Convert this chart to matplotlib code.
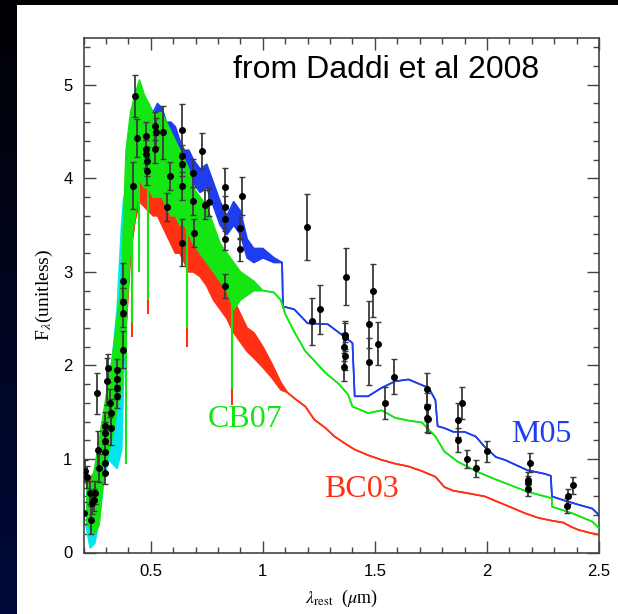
import numpy as np
import matplotlib
matplotlib.use('Agg')
import matplotlib.pyplot as plt
from matplotlib.patches import Rectangle
from matplotlib.colors import LinearSegmentedColormap
from matplotlib.ticker import MultipleLocator

plt.rcParams['mathtext.fontset'] = 'stix'

# ---- values ----
# model spectra: wavelength (micron), lower / upper edge of the noisy band
cyan_wl = [0.21, 0.23, 0.25, 0.27, 0.29, 0.31, 0.33, 0.35, 0.37, 0.38, 0.39]
cyan_lo = [0.30, 0.05, 0.10, 0.35, 0.75, 1.00, 0.95, 0.90, 1.10, 2.00, 2.60]
cyan_hi = [0.75, 0.60, 0.75, 1.05, 1.40, 1.75, 2.10, 2.60, 3.50, 3.80, 3.20]

cb07_wl = [0.21, 0.23, 0.25, 0.27, 0.29, 0.31, 0.33, 0.35, 0.37, 0.39,
           0.41, 0.43, 0.45, 0.47, 0.49, 0.51, 0.53, 0.55, 0.57, 0.59,
           0.61, 0.63, 0.65, 0.67, 0.69, 0.72, 0.75, 0.78, 0.81, 0.84,
           0.87, 0.90, 0.93, 0.96, 1.00, 1.05, 1.08, 1.10, 1.14, 1.19,
           1.23, 1.28, 1.34, 1.38, 1.40, 1.47, 1.53, 1.59, 1.65, 1.71,
           1.77, 1.81, 1.87, 1.96, 2.04, 2.18, 2.29, 2.29, 2.38, 2.47, 2.50]
cb07_lo = [0.35, 0.25, 0.20, 0.30, 0.85, 1.05, 1.25, 1.55, 1.75, 2.50,
           3.30, 3.60, 4.00, 3.90, 3.90, 3.80, 3.80, 3.80, 3.70, 3.60,
           3.60, 3.50, 3.50, 3.40, 3.30, 3.20, 3.10, 3.00, 2.90, 2.80,
           2.60, 2.70, 2.75, 2.80, 2.80, 2.78, 2.70, 2.55, 2.36, 2.15,
           2.05, 1.92, 1.80, 1.69, 1.56, 1.49, 1.52, 1.44, 1.41, 1.39,
           1.24, 1.08, 0.97, 0.86, 0.78, 0.65, 0.58, 0.49, 0.42, 0.33, 0.26]
cb07_hi = [0.80, 0.70, 0.90, 1.20, 1.50, 1.80, 2.10, 2.50, 2.90, 4.30,
           4.70, 4.90, 5.05, 4.90, 4.80, 4.70, 4.70, 4.70, 4.60, 4.50,
           4.40, 4.30, 4.20, 4.10, 3.90, 3.80, 3.70, 3.50, 3.30, 3.20,
           3.10, 3.00, 2.95, 2.90, 2.80, 2.78, 2.70, 2.55, 2.36, 2.15,
           2.05, 1.92, 1.80, 1.69, 1.56, 1.49, 1.52, 1.44, 1.41, 1.39,
           1.24, 1.08, 0.97, 0.86, 0.78, 0.65, 0.58, 0.49, 0.42, 0.33, 0.26]

bc03_wl = [0.21, 0.25, 0.29, 0.33, 0.37, 0.39, 0.41, 0.43, 0.45, 0.47,
           0.49, 0.51, 0.53, 0.55, 0.57, 0.59, 0.61, 0.63, 0.65, 0.67,
           0.69, 0.72, 0.75, 0.78, 0.81, 0.84, 0.87, 0.90, 0.93, 0.96,
           1.00, 1.04, 1.08, 1.11, 1.14, 1.19, 1.23, 1.28, 1.32, 1.37,
           1.41, 1.47, 1.53, 1.59, 1.65, 1.71, 1.77, 1.81, 1.85, 1.90,
           1.99, 2.05, 2.11, 2.17, 2.23, 2.29, 2.34, 2.38, 2.41, 2.46, 2.50]
bc03_lo = [0.40, 0.35, 0.90, 1.30, 1.80, 2.40, 3.20, 3.55, 3.75, 3.70,
           3.65, 3.60, 3.60, 3.50, 3.40, 3.30, 3.20, 3.20, 3.10, 3.00,
           3.00, 2.95, 2.85, 2.70, 2.60, 2.50, 2.35, 2.25, 2.15, 2.08,
           1.98, 1.87, 1.74, 1.71, 1.65, 1.56, 1.42, 1.33, 1.24, 1.16,
           1.10, 1.04, 0.99, 0.95, 0.92, 0.87, 0.81, 0.70, 0.66, 0.64,
           0.60, 0.54, 0.48, 0.42, 0.37, 0.34, 0.32, 0.27, 0.24, 0.21, 0.19]
bc03_hi = [0.75, 0.85, 1.40, 2.00, 2.80, 4.00, 4.40, 4.60, 4.70, 4.50,
           4.40, 4.30, 4.30, 4.20, 4.10, 4.00, 3.90, 3.80, 3.70, 3.60,
           3.50, 3.35, 3.20, 3.05, 2.95, 2.85, 2.70, 2.55, 2.40, 2.35,
           2.20, 2.02, 1.82, 1.71, 1.65, 1.56, 1.42, 1.33, 1.24, 1.16,
           1.10, 1.04, 0.99, 0.95, 0.92, 0.87, 0.81, 0.70, 0.66, 0.64,
           0.60, 0.54, 0.48, 0.42, 0.37, 0.34, 0.32, 0.27, 0.24, 0.21, 0.19]

m05_wl = [0.39, 0.41, 0.43, 0.45, 0.47, 0.49, 0.51, 0.53, 0.55, 0.57,
          0.59, 0.61, 0.63, 0.65, 0.67, 0.69, 0.72, 0.75, 0.78, 0.81,
          0.84, 0.87, 0.90, 0.93, 0.96, 1.00, 1.05, 1.086, 1.09, 1.14,
          1.20, 1.29, 1.34, 1.40, 1.41, 1.47, 1.53, 1.59, 1.65, 1.71,
          1.74, 1.77, 1.78, 1.81, 1.85, 1.90, 1.95, 1.99, 2.04, 2.08,
          2.18, 2.26, 2.285, 2.29, 2.34, 2.41, 2.47, 2.50]
m05_lo = [2.60, 3.40, 3.80, 4.40, 4.45, 4.50, 4.40, 4.50, 4.40, 4.30,
          4.30, 4.20, 4.10, 4.00, 4.00, 3.95, 3.85, 3.90, 3.70, 3.50,
          3.40, 3.50, 3.40, 3.15, 3.10, 3.15, 3.10, 3.10, 2.63, 2.60,
          2.45, 2.44, 2.35, 2.24, 1.67, 1.67, 1.76, 1.83, 1.85, 1.79,
          1.76, 1.63, 1.35, 1.33, 1.29, 1.29, 1.24, 1.13, 1.02, 0.99,
          0.88, 0.84, 0.82, 0.60, 0.56, 0.51, 0.47, 0.40]
m05_hi = [4.20, 4.60, 4.90, 5.00, 4.85, 4.80, 4.70, 4.80, 4.75, 4.60,
          4.60, 4.55, 4.40, 4.30, 4.30, 4.20, 4.10, 4.15, 3.95, 3.75,
          3.60, 3.75, 3.65, 3.35, 3.25, 3.25, 3.15, 3.10, 2.63, 2.60,
          2.45, 2.44, 2.35, 2.24, 1.67, 1.67, 1.76, 1.83, 1.85, 1.79,
          1.76, 1.63, 1.35, 1.33, 1.29, 1.29, 1.24, 1.13, 1.02, 0.99,
          0.88, 0.84, 0.82, 0.60, 0.56, 0.51, 0.47, 0.40]

# deep absorption spikes
cb07_spike_wl = [0.39, 0.417, 0.448, 0.488, 0.66, 0.862]
cb07_spike_top = [3.80, 4.60, 4.90, 4.70, 4.10, 3.00]
cb07_spike_bot = [0.95, 2.45, 3.00, 2.70, 2.40, 1.75]
bc03_spike_wl = [0.417, 0.488, 0.66, 0.862]
bc03_spike_top = [4.00, 4.00, 3.60, 2.60]
bc03_spike_bot = [2.30, 2.55, 2.20, 1.58]

# photometric points: wavelength, flux, error
obs_wl = [0.202, 0.207, 0.214, 0.229, 0.232, 0.237, 0.247, 0.251, 0.259, 0.266,
          0.271, 0.296, 0.296, 0.296, 0.296, 0.296, 0.296, 0.306, 0.311, 0.318,
          0.321, 0.321, 0.348, 0.348, 0.348, 0.348, 0.376, 0.378, 0.378, 0.378,
          0.420, 0.430, 0.440, 0.478, 0.478, 0.478, 0.482, 0.482, 0.519, 0.522,
          0.519, 0.556, 0.585, 0.571, 0.638, 0.638, 0.638, 0.641, 0.638, 0.688,
          0.688, 0.695, 0.728, 0.742, 0.762, 0.832, 0.832, 0.832, 0.832, 0.832,
          0.909, 0.899, 0.899,
          1.196, 1.221, 1.253, 1.370, 1.367, 1.367, 1.364, 1.367, 1.364, 1.476,
          1.476, 1.491, 1.513, 1.586, 1.547, 1.732, 1.732, 1.732, 1.735, 1.888,
          1.871, 1.871, 1.912, 1.951, 2.000, 2.190, 2.183, 2.183, 2.183, 2.362,
          2.359, 2.384]
obs_f = [0.42, 0.87, 0.81, 0.64, 0.35, 0.53, 0.56, 0.64, 1.70, 1.10,
         0.90, 0.85, 0.96, 1.07, 1.19, 1.28, 1.35, 1.83, 1.97, 1.60,
         1.49, 1.33, 1.67, 1.76, 1.85, 1.95, 2.90, 2.17, 2.56, 2.68,
         3.92, 4.88, 4.43, 4.45, 4.31, 4.26, 4.18, 4.08, 4.56, 4.49,
         4.31, 4.49, 4.02, 3.69, 4.52, 4.24, 4.15, 3.92, 3.31, 4.06,
         3.76, 3.42, 4.29, 3.72, 3.75, 3.91, 3.69, 3.56, 3.35, 2.85,
         3.81, 3.47, 3.24,
         3.48, 2.47, 2.60, 2.95, 2.33, 2.30, 2.20, 2.10, 1.98, 2.44,
         2.04, 2.80, 2.23, 1.88, 1.60, 1.75, 1.56, 1.44, 1.43, 1.60,
         1.42, 1.20, 1.00, 0.90, 1.08, 0.96, 0.78, 0.74, 0.68, 0.60,
         0.50, 0.72]
obs_err = [0.12, 0.12, 0.12, 0.12, 0.15, 0.12, 0.12, 0.12, 0.22, 0.20,
           0.15, 0.12, 0.12, 0.12, 0.12, 0.12, 0.15, 0.25, 0.15, 0.15,
           0.15, 0.18, 0.12, 0.12, 0.12, 0.12, 0.20, 0.20, 0.15, 0.15,
           0.25, 0.22, 0.20, 0.15, 0.15, 0.15, 0.15, 0.15, 0.15, 0.15,
           0.15, 0.28, 0.15, 0.15, 0.27, 0.12, 0.12, 0.15, 0.25, 0.15,
           0.15, 0.15, 0.19, 0.15, 0.15, 0.20, 0.12, 0.12, 0.12, 0.13,
           0.20, 0.12, 0.12,
           0.35, 0.25, 0.26, 0.30, 0.15, 0.15, 0.15, 0.15, 0.15, 0.25,
           0.25, 0.28, 0.23, 0.19, 0.17, 0.17, 0.15, 0.15, 0.15, 0.17,
           0.18, 0.13, 0.10, 0.09, 0.11, 0.10, 0.08, 0.08, 0.08, 0.08,
           0.08, 0.09]

# ---- figure ----
fig = plt.figure(figsize=(6.18, 6.14), dpi=100)
fig.patch.set_facecolor('black')

# slide background: dark-to-navy strip on the left, white panel
bg = fig.add_axes([0, 0, 1, 1])
bg.set_axis_off()
navy = LinearSegmentedColormap.from_list('navy', ['#00093a', '#010104'])
bg.imshow(np.linspace(0, 1, 256).reshape(-1, 1), cmap=navy, aspect='auto',
          extent=[0, 1, 0, 1], origin='lower')
bg.add_patch(Rectangle((17 / 618, 0), 1, 609 / 614, facecolor='white',
                       edgecolor='none', transform=bg.transAxes))
bg.set_xlim(0, 1)
bg.set_ylim(0, 1)

ax = fig.add_axes([83.5 / 618, 61.5 / 614, 515.5 / 618, 514.5 / 614])
ax.set_facecolor('white')

BLUE = '#1e3cf0'
GREEN = '#14e614'
RED = '#ff3014'
CYAN = '#00e5ee'


def band(wl, lo, hi, color, z):
    ax.fill_between(wl, lo, hi, color=color, lw=0, zorder=z)
    ax.plot(wl, lo, color=color, lw=1.2, zorder=z)
    ax.plot(wl, hi, color=color, lw=1.2, zorder=z)


band(m05_wl, m05_lo, m05_hi, BLUE, 2)
band(bc03_wl, bc03_lo, bc03_hi, RED, 3)
ax.vlines(bc03_spike_wl, bc03_spike_bot, bc03_spike_top, color=RED, lw=1.5, zorder=3)
band(cyan_wl, cyan_lo, cyan_hi, CYAN, 3.5)
band(cb07_wl, cb07_lo, cb07_hi, GREEN, 4)
ax.vlines(cb07_spike_wl, cb07_spike_bot, cb07_spike_top, color=GREEN, lw=1.5, zorder=4)

ax.errorbar(obs_wl, obs_f, yerr=obs_err, fmt='o', ms=4, mfc='black', mec='black',
            ecolor='#3a3a3a', elinewidth=1.3, capsize=2.5, capthick=1, zorder=6)

ax.set_xlim(0.2, 2.5)
ax.set_ylim(0, 5.5)
ax.xaxis.set_major_locator(MultipleLocator(0.5))
ax.xaxis.set_minor_locator(MultipleLocator(0.1))
ax.yaxis.set_major_locator(MultipleLocator(1))
ax.yaxis.set_minor_locator(MultipleLocator(0.2))
ax.set_xticks([0.5, 1, 1.5, 2, 2.5])
ax.set_xticklabels(['0.5', '1', '1.5', '2', '2.5'])
ax.tick_params(which='both', direction='in', top=True, right=True,
               color='#444444', width=1.0, labelsize=12)
ax.tick_params(which='major', length=8.5, pad=8)
ax.tick_params(which='minor', length=4.3)
for lab in ax.get_xticklabels() + ax.get_yticklabels():
    lab.set_family('Liberation Sans')
for sp in ax.spines.values():
    sp.set_color('#444444')
    sp.set_linewidth(1.2)

ax.set_ylabel(r'F$_{\lambda}$(unitless)', family='Liberation Serif', fontsize=14)
ax.yaxis.set_label_coords(-0.055, 0.5)
ax.set_xlabel(r'$\lambda_{\rm rest}$  ($\mu$m)', family='Liberation Serif', fontsize=13)
ax.xaxis.set_label_coords(0.5, -0.068)

ax.text(0.586, 0.938, 'from Daddi et al 2008', transform=ax.transAxes,
        ha='center', va='center', family='Liberation Sans', fontsize=23)
ax.text(0.921, 1.42, 'CB07', color=GREEN, ha='center', va='center',
        family='Liberation Serif', fontsize=23, zorder=7)
ax.text(1.439, 0.67, 'BC03', color=RED, ha='center', va='center',
        family='Liberation Serif', fontsize=23, zorder=7)
ax.text(2.242, 1.26, 'M05', color=BLUE, ha='center', va='center',
        family='Liberation Serif', fontsize=23, zorder=7)

fig.savefig('out.png', dpi=100, facecolor=fig.get_facecolor())
